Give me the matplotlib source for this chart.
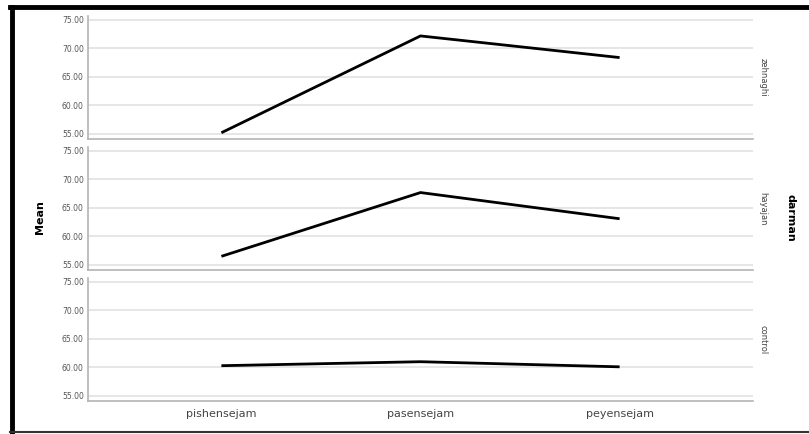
import matplotlib.pyplot as plt
from matplotlib.lines import Line2D

# -------------------------------------------------------------
# data

times = ["pishensejam", "pasensejam", "peyensejam"]
groups = ["zehnaghi", "hayajan", "control"]
zehnaghi = [55.2, 72.2, 68.4]
hayajan = [56.5, 67.7, 63.1]
control = [60.3, 61.0, 60.1]
means = [zehnaghi, hayajan, control]
yticks = [55, 60, 65, 70, 75]

# -------------------------------------------------------------

fig = plt.figure(figsize=(8.09, 4.34), dpi=100)
W, H = 809, 434
left, right = 88, 753
panels = [(16, 139), (147, 270), (278, 401)]

x = list(range(len(times)))
axes = []
for (top, bot), g, vals in zip(panels, groups, means):
    ax = fig.add_axes([left / W, 1 - bot / H, (right - left) / W, (bot - top) / H])
    ax.plot(x, vals, color="black", lw=2, solid_capstyle="butt", zorder=3)
    ax.set_xlim(-0.67, 2.67)
    ax.set_ylim(54.1, 75.7)
    ax.set_yticks(yticks)
    ax.set_yticklabels(["%.2f" % v for v in yticks], fontsize=5.5, color="#555555")
    ax.grid(axis="y", color="#e2e2e2", lw=1.2, zorder=0)
    ax.tick_params(length=0, pad=3)
    for s in ["top", "right"]:
        ax.spines[s].set_visible(False)
    for s in ["left", "bottom"]:
        ax.spines[s].set_color("#b4b4b4")
        ax.spines[s].set_linewidth(1.2)
    ax.set_xticks(x)
    ax.set_xticklabels([])
    ax.text(1.015, 0.5, g, transform=ax.transAxes, rotation=-90,
            ha="center", va="center", fontsize=6, color="#444444")
    axes.append(ax)

axes[-1].set_xticklabels(times, fontsize=8, color="#444444")
axes[-1].tick_params(axis="x", pad=6)

fig.text(40 / W, 1 - 217 / H, "Mean", rotation=90, ha="center", va="center",
         fontsize=8, fontweight="bold")
fig.text(790 / W, 1 - 218 / H, "darman", rotation=-90, ha="center", va="center",
         fontsize=8, fontweight="bold")

# frame around the picture
fig.add_artist(Line2D([12 / W, 12 / W], [1 - 7 / H, 1 - 432 / H], color="black", lw=3.5))
fig.add_artist(Line2D([10 / W, 1], [1 - 7 / H, 1 - 7 / H], color="black", lw=3.5))
fig.add_artist(Line2D([10 / W, 1], [1 - 432 / H, 1 - 432 / H], color="#333333", lw=1.5))

fig.savefig("out.png", dpi=100)
